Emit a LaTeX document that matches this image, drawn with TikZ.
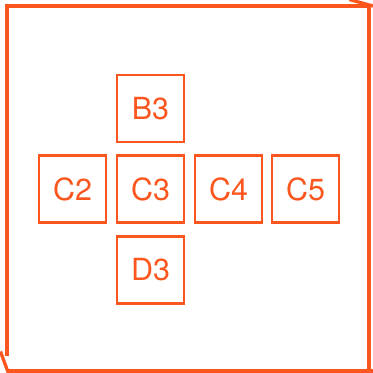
\documentclass[tikz,border=0pt]{standalone}
\usepackage{fontspec}
\setmainfont{TeX Gyre Heros}
\usepackage{tikz}
\usetikzlibrary{positioning}
\definecolor{brickorange}{RGB}{250, 86, 30}

\begin{document}
\begin{tikzpicture}[x=0.03cm, y=-0.03cm,
  cell/.style={draw=brickorange, line width=2.1pt, minimum size=2.02cm, inner sep=0pt, text=brickorange, font=\fontsize{26}{26}\selectfont},
  frame/.style={draw=brickorange, line cap=rect}
]
  \useasboundingbox (0,0) rectangle (373,373);

  % Outer frame
  \draw[frame, line width=4.2pt] (7,6) -- (366,6);
  \draw[frame, line width=4.2pt] (7,6) -- (7,354);
  \draw[frame, line width=2.8pt] (351,0) -- (373,6);
  \draw[frame, line width=2.8pt] (369,8) -- (369,373);
  \draw[frame, line width=2.8pt] (9,371) -- (373,371);
  \draw[frame, line width=2.8pt] (1,353) -- (8,372);

  % Cells
  \node[cell] (b3) at (150.5, 108.5) {B3};
  \node[cell] (c2) at (72.5, 189) {C2};
  \node[cell] (c3) at (150.5, 189) {C3};
  \node[cell] (c4) at (228.5, 189) {C4};
  \node[cell] (c5) at (305.5, 189) {C5};
  \node[cell] (d3) at (150.5, 270) {D3};
\end{tikzpicture}
\end{document}
